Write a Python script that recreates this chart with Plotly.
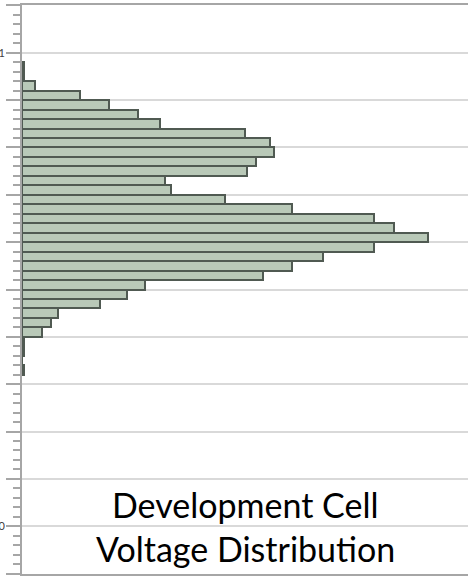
import plotly.graph_objects as go

# Bin centres (V), 2 mV bins, top to bottom
bin_centers = [4.097, 4.095, 4.093, 4.091, 4.089, 4.087, 4.085, 4.083, 4.081, 4.079,
               4.077, 4.075, 4.073, 4.071, 4.069, 4.067, 4.065, 4.063, 4.061, 4.059,
               4.057, 4.055, 4.053, 4.051, 4.049, 4.047, 4.045, 4.043, 4.041, 4.039,
               4.037, 4.035, 4.033]
counts = [1, 1, 6, 26, 39, 52, 62, 100, 111, 113,
          105, 101, 64, 67, 91, 121, 158, 167, 182, 158,
          135, 121, 108, 55, 47, 35, 16, 13, 9, 1,
          1, 0, 1]

major_tickvals = [3.99, 4.00, 4.01, 4.02, 4.03, 4.04, 4.05, 4.06, 4.07, 4.08, 4.09, 4.10, 4.11]
major_ticktext = ["", "4.0", "", "", "", "", "", "", "", "", "", "4.1", ""]
title_lines = ["Development Cell", "Voltage Distribution"]

fig = go.Figure()
fig.add_trace(go.Bar(
    y=bin_centers, x=counts, orientation="h", width=0.002,
    marker=dict(color="#B9C9B8", line=dict(color="#505A52", width=2)),
    hoverinfo="skip",
))

fig.update_layout(
    width=472, height=576,
    margin=dict(l=22, r=4, t=5, b=2, autoexpand=False),
    paper_bgcolor="white", plot_bgcolor="white",
    showlegend=False, bargap=0,
    font=dict(family="Lato", color="#000000"),
    xaxis=dict(range=[0, 200], showgrid=False, zeroline=False, showticklabels=False,
               ticks="", showline=True, mirror=True, linecolor="#A6A6A6", linewidth=2,
               automargin=False),
    yaxis=dict(range=[3.9899, 4.1101], tickmode="array", tickvals=major_tickvals,
               ticktext=major_ticktext, ticks="outside", ticklen=14, tickwidth=1.5,
               tickcolor="#A6A6A6", showgrid=True, gridcolor="#D9D9D9", gridwidth=1.5,
               zeroline=False, showline=True, linecolor="#A6A6A6", linewidth=2,
               tickfont=dict(family="Lato", size=11, color="#404040"),
               ticklabelstandoff=-1,
               automargin=False,
               minor=dict(ticks="outside", ticklen=7, tickwidth=1.5, tickcolor="#A6A6A6",
                          dtick=0.002, tick0=3.99, showgrid=False)),
)

fig.add_annotation(text=title_lines[0], xref="paper", yref="paper", x=0.5, y=0.1215,
                   xanchor="center", yanchor="middle", showarrow=False,
                   font=dict(family="Lato", size=34, color="#000000"))
fig.add_annotation(text=title_lines[1], xref="paper", yref="paper", x=0.5, y=0.0455,
                   xanchor="center", yanchor="middle", showarrow=False,
                   font=dict(family="Lato", size=34, color="#000000"))

fig.write_html("out.html", config={"displayModeBar": False},
               post_script="document.body.style.margin='0';document.body.style.overflow='hidden';")
